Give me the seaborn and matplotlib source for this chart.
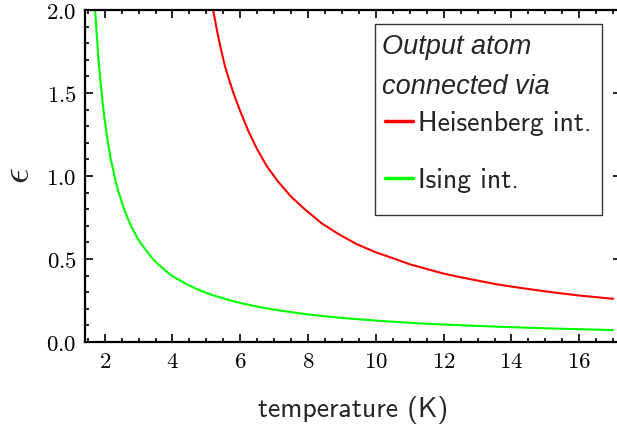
import numpy as np
import pandas as pd
import matplotlib
matplotlib.use("Agg")
import matplotlib.pyplot as plt
import seaborn as sns
from matplotlib.ticker import MultipleLocator, FuncFormatter
from matplotlib.patches import Rectangle

# values
heis_T = [5.20, 5.30, 5.40, 5.55, 5.70, 5.85, 6.00, 6.24, 6.50, 6.78, 7.10, 7.50,
          7.90, 8.40, 8.90, 9.43, 10.0, 10.5, 11.0, 11.5, 12.0, 12.5, 13.0, 13.5,
          14.0, 14.5, 15.0, 15.5, 16.0, 16.5, 17.0]
heis_eps = [2.00, 1.89, 1.79, 1.66, 1.56, 1.47, 1.39, 1.27, 1.16, 1.06, 0.97, 0.875,
            0.80, 0.715, 0.65, 0.59, 0.54, 0.505, 0.468, 0.44, 0.412, 0.39, 0.37, 0.35,
            0.334, 0.319, 0.305, 0.292, 0.28, 0.27, 0.26]

ising_T = [1.72, 1.75, 1.78, 1.81, 1.85, 1.89, 1.93, 1.97, 2.02, 2.07, 2.12, 2.18,
           2.25, 2.32, 2.40, 2.50, 2.60, 2.72, 2.85, 2.97, 3.10, 3.25, 3.40, 3.57,
           3.75, 3.97, 4.20, 4.45, 4.70, 5.00, 5.30, 5.65, 6.00, 6.50, 7.00, 7.50,
           8.00, 8.50, 9.00, 9.50, 10.0, 10.75, 11.5, 12.25, 13.0, 13.75, 14.5, 15.25,
           16.0, 17.0]
ising_eps = [2.00, 1.90, 1.81, 1.72, 1.63, 1.54, 1.46, 1.39, 1.31, 1.24, 1.17, 1.10,
             1.04, 0.97, 0.91, 0.845, 0.785, 0.725, 0.67, 0.625, 0.585, 0.545, 0.505, 0.47,
             0.438, 0.40, 0.374, 0.345, 0.321, 0.296, 0.275, 0.254, 0.235, 0.213, 0.195, 0.18,
             0.166, 0.155, 0.145, 0.137, 0.129, 0.119, 0.110, 0.103, 0.097, 0.091, 0.086, 0.081,
             0.077, 0.072]

labels = ["Heisenberg int.", "Ising int."]
colors = ["#ff0000", "#00ff00"]
legend_title = ["Output atom", "connected via"]

df = pd.concat([
    pd.DataFrame({"T": heis_T, "eps": heis_eps, "kind": labels[0]}),
    pd.DataFrame({"T": ising_T, "eps": ising_eps, "kind": labels[1]}),
])

sns.set_style("ticks")
plt.rcParams["mathtext.fontset"] = "cm"

W, H = 617, 424
fig = plt.figure(figsize=(W / 100, H / 100), dpi=100)
ax = fig.add_axes([85 / W, 82 / H, 536 / W, 332 / H])

sns.lineplot(data=df, x="T", y="eps", hue="kind", palette=colors,
             linewidth=1.5, sort=False, estimator=None, ax=ax)
handles, _ = ax.get_legend_handles_labels()
ax.get_legend().remove()

ax.set_xlim(1.42, 17.23)
ax.set_ylim(0, 2.0)

ax.xaxis.set_major_locator(MultipleLocator(2))
ax.xaxis.set_minor_locator(MultipleLocator(0.5))
ax.yaxis.set_major_locator(MultipleLocator(0.5))
ax.yaxis.set_minor_locator(MultipleLocator(0.1))
ax.xaxis.set_major_formatter(FuncFormatter(lambda v, p: f"${v:g}$"))
ax.yaxis.set_major_formatter(FuncFormatter(lambda v, p: f"${v:.1f}$"))

ax.tick_params(which="both", direction="in", top=True, right=True, colors="black",
               width=1.2)
ax.tick_params(which="major", length=6, labelsize=16.5, pad=6)
ax.tick_params(which="minor", length=3)
for s in ax.spines.values():
    s.set_linewidth(1.6)
    s.set_color("black")

ax.set_xlabel("temperature (K)", fontfamily="cmss10", fontsize=20, labelpad=16)
ax.set_ylabel(r"$\epsilon$", fontsize=28)
ax.yaxis.set_label_coords(-0.09, 0.5)

# legend: frame + italic heading drawn by hand, entries from matplotlib
fig.add_artist(Rectangle((375 / W, 1 - 215 / H), 227 / W, 191 / H,
                         transform=fig.transFigure, facecolor="white",
                         edgecolor="#333333", linewidth=1.0, zorder=5))
for i, t in enumerate(legend_title):
    fig.text(382 / W, 1 - (47 + 40 * i) / H, t, fontfamily="Liberation Sans",
             style="italic", fontsize=19.5, va="center", ha="left", zorder=6)

leg = fig.legend(handles, labels, loc="upper left",
                 bbox_to_anchor=(385 / W, 1 - 111 / H), borderaxespad=0,
                 borderpad=0, prop={"family": "cmss10", "size": 20},
                 handlelength=1.0, handletextpad=0.18, labelspacing=1.15,
                 frameon=False)
leg.set_zorder(7)
for line in leg.get_lines():
    line.set_linewidth(2.5)

fig.savefig("out.png", dpi=100)
